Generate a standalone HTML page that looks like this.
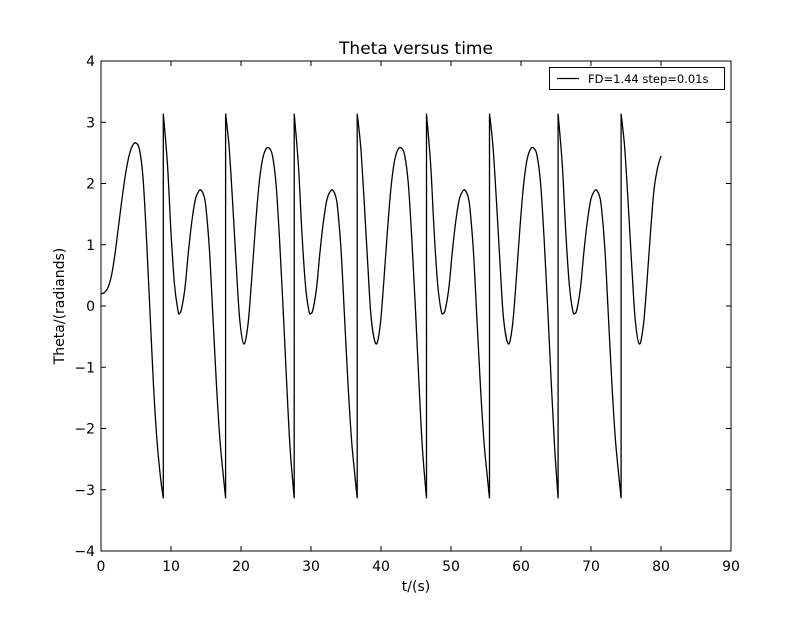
<!DOCTYPE html>
<html><head><meta charset="utf-8"><style>
body{margin:0;background:#fff}
text{font-family:"DejaVu Sans","Liberation Sans",sans-serif;fill:#000}
</style></head><body>
<svg id="chart" width="812" height="612" xmlns="http://www.w3.org/2000/svg">
<rect width="812" height="612" fill="#fff"/>
<text x="416" y="54" font-size="17" text-anchor="middle">Theta versus time</text>
<text x="416" y="591" font-size="14" text-anchor="middle">t/(s)</text>
<text transform="translate(64,306) rotate(-90)" font-size="14" text-anchor="middle">Theta/(radiands)</text>
<g id="ticks"></g>
<path id="series" fill="none" stroke="#000" stroke-width="1.3"/>
<rect x="101" y="61" width="630" height="490" fill="none" stroke="#000" stroke-width="1"/>
<g>
<rect x="549.5" y="67.5" width="175" height="22" fill="#fff" stroke="#000"/>
<line x1="557" y1="78.5" x2="579" y2="78.5" stroke="#000" stroke-width="1.3"/>
<text x="588" y="83" font-size="11.5">FD=1.44 step=0.01s</text>
</g>
</svg>
<script>
const xTicks=[0,10,20,30,40,50,60,70,80,90];
const yTicks=[-4,-3,-2,-1,0,1,2,3,4];
const times=[0,0.5,1,1.5,2,2.5,3,3.5,4,4.5,5,5.5,6,6.5,7,7.5,8,8.5,8.9,
8.9,9.5,10.0,10.5,11.0,11.2,11.5,12.0,12.5,13.0,13.5,14.0,14.3,14.7,15.0,15.5,16.0,16.5,17.0,17.5,17.8,
17.8,18.3,18.8,19.3,19.8,20.4,21.0,21.5,22.0,22.5,23.0,23.5,24.0,24.5,25.0,25.5,26.0,26.5,27.0,27.6,
27.6,28.2,28.7,29.2,29.7,30.0,30.3,30.8,31.3,31.8,32.3,32.8,33.1,33.5,33.8,34.3,34.8,35.3,35.8,36.3,36.6,
36.6,37.1,37.6,38.1,38.6,39.3,39.9,40.4,40.9,41.4,41.9,42.4,42.9,43.4,43.9,44.4,44.9,45.4,45.9,46.5,
46.5,47.1,47.6,48.1,48.6,48.9,49.2,49.7,50.2,50.7,51.2,51.7,52.0,52.4,52.7,53.2,53.7,54.2,54.7,55.2,55.5,
55.5,56.0,56.5,57.0,57.5,58.2,58.8,59.3,59.8,60.3,60.8,61.3,61.8,62.3,62.8,63.3,63.8,64.3,64.8,65.3,
65.3,65.9,66.4,66.9,67.4,67.7,68.0,68.5,69.0,69.5,70.0,70.5,70.8,71.2,71.5,72.0,72.5,73.0,73.5,74.0,74.3,
74.3,74.8,75.3,75.8,76.3,76.9,77.5,78.0,78.5,79.0,79.5,80.0];
const theta=[0.2,0.22,0.3,0.5,0.85,1.3,1.75,2.15,2.45,2.62,2.66,2.55,2.1,1.1,-0.1,-1.3,-2.2,-2.8,-3.14,
3.14,2.3,1.2,0.35,-0.08,-0.12,-0.05,0.3,0.9,1.4,1.75,1.88,1.89,1.8,1.6,0.9,-0.2,-1.3,-2.2,-2.8,-3.14,
3.14,2.6,1.7,0.7,-0.2,-0.62,-0.3,0.4,1.2,1.9,2.35,2.55,2.58,2.45,2.0,1.1,0,-1.2,-2.3,-3.14,
3.14,2.3,1.2,0.35,-0.08,-0.12,-0.05,0.3,0.9,1.4,1.75,1.88,1.89,1.8,1.6,0.9,-0.2,-1.3,-2.2,-2.8,-3.14,
3.14,2.6,1.7,0.7,-0.2,-0.62,-0.3,0.4,1.2,1.9,2.35,2.55,2.58,2.45,2.0,1.1,0,-1.2,-2.3,-3.14,
3.14,2.3,1.2,0.35,-0.08,-0.12,-0.05,0.3,0.9,1.4,1.75,1.88,1.89,1.8,1.6,0.9,-0.2,-1.3,-2.2,-2.8,-3.14,
3.14,2.6,1.7,0.7,-0.2,-0.62,-0.3,0.4,1.2,1.9,2.35,2.55,2.58,2.45,2.0,1.1,0,-1.2,-2.3,-3.14,
3.14,2.3,1.2,0.35,-0.08,-0.12,-0.05,0.3,0.9,1.4,1.75,1.88,1.89,1.8,1.6,0.9,-0.2,-1.3,-2.2,-2.8,-3.14,
3.14,2.6,1.7,0.7,-0.2,-0.62,-0.3,0.4,1.2,1.9,2.25,2.45];
const X0=101,X1=731,Y0=551,Y1=61;
function sx(v){return X0+(v-0)/(90-0)*(X1-X0);}
function sy(v){return Y0-(v+4)/8*(Y0-Y1);}
const NS='http://www.w3.org/2000/svg';
const tg=document.getElementById('ticks');
function mk(tag,attrs){const e=document.createElementNS(NS,tag);for(const k in attrs)e.setAttribute(k,attrs[k]);return e;}
xTicks.forEach(v=>{
 const x=sx(v);
 const a=mk('line',{x1:x,y1:Y0,x2:x,y2:Y0-5,stroke:'#000'});
 
 
 tg.appendChild(a);
 const b=mk('line',{x1:x,y1:Y1,x2:x,y2:Y1+5,stroke:'#000'});
 
 
 tg.appendChild(b);
 const t=mk('text',{x:x,y:Y0+20,'font-size':14,'text-anchor':'middle'});
 t.textContent=v;
 
 
 tg.appendChild(t);
});
yTicks.forEach(v=>{
 const y=sy(v);
 const a=mk('line',{x1:X0,y1:y,x2:X0+5,y2:y,stroke:'#000'});
 
 
 tg.appendChild(a);
 const b=mk('line',{x1:X1,y1:y,x2:X1-5,y2:y,stroke:'#000'});
 
 
 tg.appendChild(b);
 const t=mk('text',{x:X0-6,y:y+5,'font-size':14,'text-anchor':'end'});
 t.textContent=v<0?'\u2212'+(-v):String(v);
 
 
 tg.appendChild(t);
});
const segs=[];let cur=[];
for(let i=0;i<times.length;i++){
 if(i>0&&times[i]===times[i-1]){segs.push(cur);cur=[];}
 cur.push([sx(times[i]),sy(theta[i])]);
}
segs.push(cur);
let d='';
segs.forEach((p,si)=>{
 if(si===0)d+='M'+p[0][0].toFixed(2)+','+p[0][1].toFixed(2);
 else d+='L'+p[0][0].toFixed(2)+','+p[0][1].toFixed(2);
 for(let i=0;i<p.length-1;i++){
  const p0=p[i-1]||p[i],p1=p[i],p2=p[i+1],p3=p[i+2]||p[i+1];
  const c1x=p1[0]+(p2[0]-p0[0])/6,c1y=p1[1]+(p2[1]-p0[1])/6;
  const c2x=p2[0]-(p3[0]-p1[0])/6,c2y=p2[1]-(p3[1]-p1[1])/6;
  d+='C'+c1x.toFixed(2)+','+c1y.toFixed(2)+' '+c2x.toFixed(2)+','+c2y.toFixed(2)+' '+p2[0].toFixed(2)+','+p2[1].toFixed(2);
 }
});
document.getElementById('series').setAttribute('d',d);
</script>
</body></html>
